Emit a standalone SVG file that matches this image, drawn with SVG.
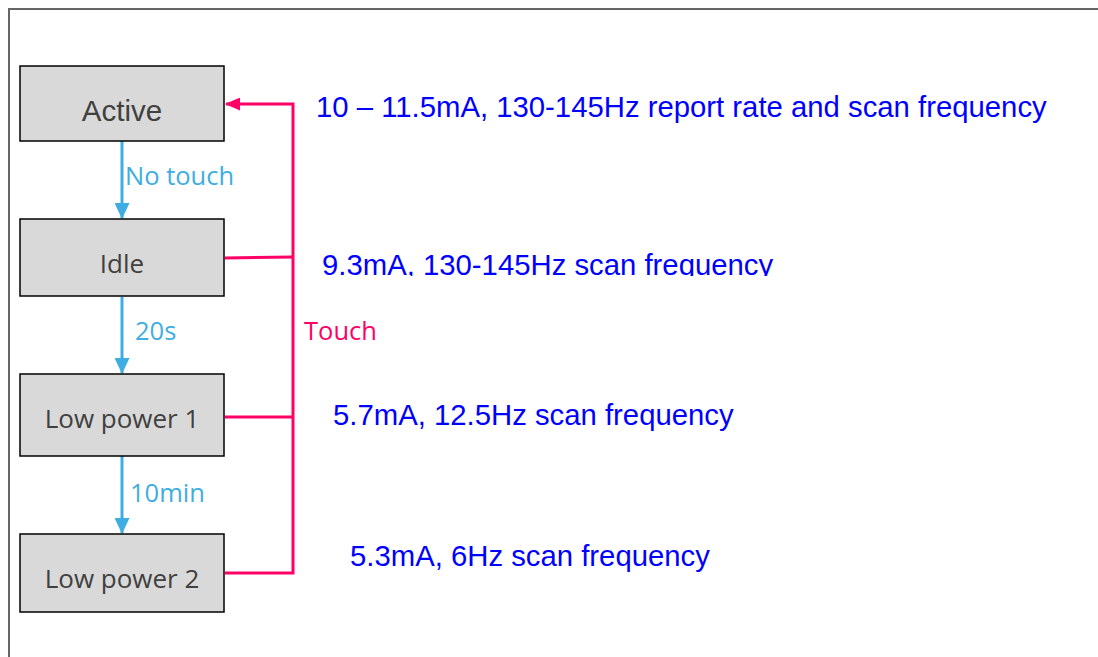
<svg xmlns="http://www.w3.org/2000/svg" width="1098" height="657" viewBox="0 0 1098 657">
<style>
.box{fill:#d9d9d9;stroke:#000;stroke-width:1.5}
.nt{font-family:"Open Sans","Liberation Sans",sans-serif;font-size:26px;fill:#404040;text-anchor:middle}
.blue{stroke:#3eaee2;stroke-width:3;fill:none}
.pink{stroke:#ff0066;stroke-width:3;fill:none}
.bl{font-family:"Open Sans","Liberation Sans",sans-serif;font-size:25.5px;fill:#3eaee2}
.pl{font-family:"Open Sans","Liberation Sans",sans-serif;font-size:25.5px;fill:#ff0066}
.info{font-family:"Liberation Sans",Arial,sans-serif;font-size:29.3px;fill:#0000ff}
</style>
<defs>
<marker id="ab" markerWidth="16" markerHeight="15" refX="15" refY="7.5" orient="auto" markerUnits="userSpaceOnUse"><path d="M0,0 L16,7.5 L0,15 z" fill="#3eaee2"/></marker>
<marker id="ap" markerWidth="15" markerHeight="13" refX="14" refY="6.5" orient="auto" markerUnits="userSpaceOnUse"><path d="M0,0 L15,6.5 L0,13 z" fill="#ff0066"/></marker>
<clipPath id="clip93"><rect x="300" y="240" width="600" height="36"/></clipPath>
</defs>
<rect width="1098" height="657" fill="#fff"/>
<path d="M9,657 V9 H1098" fill="none" stroke="#666" stroke-width="2"/>
<g id="connectors">
<line class="blue" x1="122" y1="141" x2="122" y2="218" marker-end="url(#ab)"/>
<line class="blue" x1="122" y1="297" x2="122" y2="373" marker-end="url(#ab)"/>
<line class="blue" x1="122" y1="456" x2="122" y2="533" marker-end="url(#ab)"/>
<text class="bl" x="125" y="185">No touch</text>
<text class="bl" x="135" y="340">20s</text>
<text class="bl" x="130" y="502">10min</text>
<path class="pink" d="M225,573 H293 V104 H226" marker-end="url(#ap)"/>
<path class="pink" d="M225,258 L293,257"/>
<path class="pink" d="M225,417 H293"/>
<text class="pl" x="304" y="340">Touch</text>
</g>
<g id="active"><rect class="box" x="20" y="66" width="204" height="75"/><text x="122" y="121" font-family="Liberation Sans,Arial,sans-serif" font-size="29.5" fill="#404040" text-anchor="middle">Active</text></g>
<g id="idle"><rect class="box" x="20" y="219" width="204" height="77"/><text class="nt" x="122" y="273">Idle</text></g>
<g id="lp1"><rect class="box" x="20" y="374" width="204" height="82"/><text class="nt" x="122" y="428">Low power 1</text></g>
<g id="lp2"><rect class="box" x="20" y="534" width="204" height="78"/><text class="nt" x="122" y="588">Low power 2</text></g>
<g id="info">
<text class="info" x="316" y="117">10 – 11.5mA, 130-145Hz report rate and scan frequency</text>
<text class="info" x="322" y="275" clip-path="url(#clip93)">9.3mA, 130-145Hz scan frequency</text>
<text class="info" x="333" y="425">5.7mA, 12.5Hz scan frequency</text>
<text class="info" x="350" y="566">5.3mA, 6Hz scan frequency</text>
</g>
</svg>
